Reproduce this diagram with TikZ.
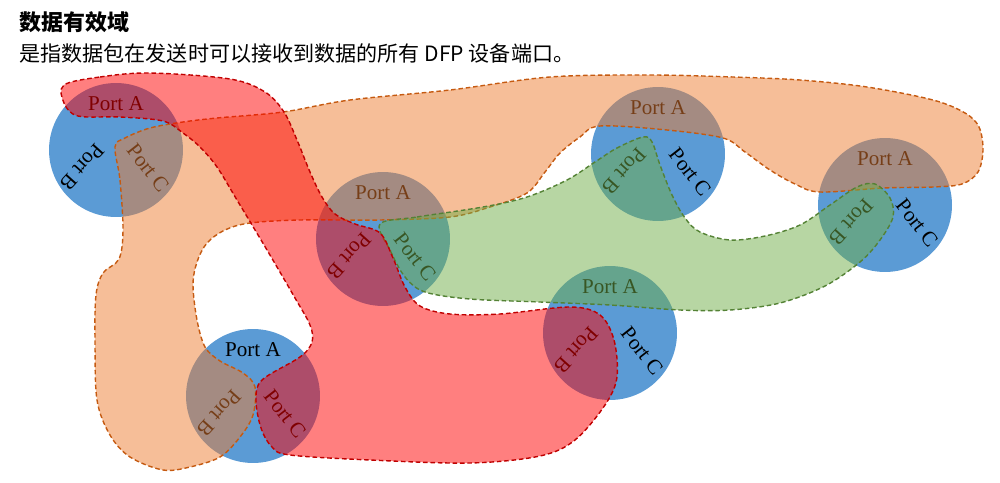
\documentclass[tikz,border=0pt]{standalone}
\usepackage{fontspec}
\setmainfont{Liberation Serif}
\newfontfamily\cjk{Noto Sans CJK SC}
\usetikzlibrary{calc}
\definecolor{portblue}{HTML}{5B9BD5}
\definecolor{zoneorange}{HTML}{ED7D31}
\definecolor{zoneorangeline}{HTML}{C55A11}
\definecolor{zonegreen}{HTML}{70AD47}
\definecolor{zonegreenline}{HTML}{548235}
\definecolor{zonered}{HTML}{FF0000}
\definecolor{zoneredline}{HTML}{C00000}

\begin{document}
\begin{tikzpicture}[x=0.02cm, y=-0.02cm,
  every node/.style={inner sep=0pt, font=\fontsize{12}{14}\selectfont},
  zone/.style={fill opacity=.5, line width=.8pt, dash pattern=on 2.6pt off 1.6pt, line join=round}]
\useasboundingbox (0,0) rectangle (1000,483);

\node[anchor=west, font=\cjk\bfseries\fontsize{12.5}{14}\selectfont] (title) at (19,22) {数据有效域};
\node[anchor=west, font=\cjk\fontsize{12}{14}\selectfont] (desc) at (19,53) {是指数据包在发送时可以接收到数据的所有 DFP 设备端口。};

% ports
\foreach \cx/\cy [count=\i] in {116/150, 383/239, 658/154, 885/205, 610/333, 253/396} {
  \fill[portblue] (\cx,\cy) circle[radius=1.34cm];
  \node (pa\i) at (\cx,\cy-46) {Port A};
  \node[rotate=228] (pb\i) at (\cx-34,\cy+17) {Port B};
  \node[rotate=-52] (pc\i) at (\cx+32,\cy+18) {Port C};
}

% data zones
\draw[zone, fill=zoneorange, draw=zoneorangeline] plot[smooth cycle, tension=.55] coordinates {
  (115,147) (120,180) (123,230) (119,259) (103,273) (96,295) (95,340) (97,400) (110,435)
  (130,457) (163,470) (190,467) (220,457) (240,437) (253,415) (255,387) (243,373) (220,361)
  (205,347) (197,320) (193,285) (197,262) (207,243) (225,230) (250,223) (300,220) (380,220)
  (450,217) (490,207) (527,193) (545,172) (560,153) (580,137) (600,126) (667,130) (723,138)
  (745,152) (770,170) (795,184) (820,192) (883,188) (933,187) (962,184) (978,172) (983,150)
  (979,127) (965,113) (933,100) (867,87) (800,80) (733,77) (650,75) (550,77) (450,90)
  (350,100) (283,112) (217,118) (183,122) (150,128) (125,138)};
\draw[zone, fill=zonegreen, draw=zonegreenline] plot[smooth cycle, tension=.55] coordinates {
  (380,224) (417,217) (483,207) (527,197) (567,180) (595,162) (617,148) (643,137) (652,142)
  (660,165) (672,195) (685,218) (700,232) (730,240) (765,236) (800,225) (830,205) (857,187)
  (875,184) (890,198) (893,217) (880,240) (860,262) (825,286) (780,303) (730,310) (680,310)
  (610,305) (540,302) (470,299) (425,292) (405,277) (390,250)};
\draw[zone, fill=zonered, draw=zoneredline] plot[smooth cycle, tension=.55] coordinates {
  (64,85) (100,77) (150,73) (230,79) (265,92) (284,112) (297,140) (310,172) (322,197)
  (335,214) (355,224) (380,233) (393,258) (405,287) (420,306) (450,314) (500,314) (570,307)
  (600,315) (614,340) (617,377) (605,405) (575,440) (540,456) (470,463) (370,460) (290,455)
  (272,447) (261,428) (256,400) (262,380) (300,357) (312,342) (310,325) (295,298) (267,250)
  (237,200) (217,167) (200,147) (183,133) (163,121) (120,117) (78,116) (64,103)};
\end{tikzpicture}
\end{document}
